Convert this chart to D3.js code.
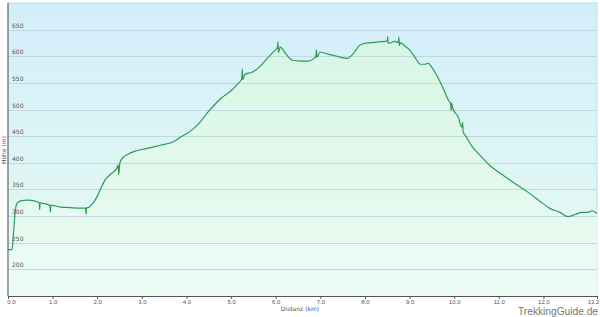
<!DOCTYPE html>
<html>
<head>
<meta charset="utf-8">
<script src="https://cdn.jsdelivr.net/npm/d3@7"></script>
<style>
  body { margin: 0; background: #fff; }
  svg { display: block; font-family: "DejaVu Sans", sans-serif; }
</style>
</head>
<body>
<div id="chart"></div>
<script>
// elevation profile (km / m)
var distKm = [0.00, 0.09, 0.12, 0.16, 0.20, 0.27, 0.43, 0.61, 0.70, 0.71, 0.72, 0.78, 0.94, 0.95, 0.96, 0.99, 1.17, 1.39, 1.61,
  1.74, 1.75, 1.76, 1.79, 1.90, 2.00, 2.08, 2.17, 2.29, 2.44, 2.47, 2.48, 2.51, 2.58, 2.69, 2.85, 3.12, 3.41, 3.70, 3.86,
  4.08, 4.30, 4.48, 4.64, 4.80, 4.98, 5.16, 5.24, 5.25, 5.26, 5.31, 5.47, 5.65, 5.83, 5.98, 6.04, 6.05, 6.06, 6.10, 6.23,
  6.36, 6.54, 6.72, 6.86, 6.90, 6.91, 6.92, 6.99, 7.17, 7.37, 7.60, 7.73, 7.89, 8.05, 8.22, 8.45, 8.50, 8.51, 8.52, 8.67,
  8.75, 8.76, 8.77, 8.79, 8.90, 9.01, 9.12, 9.24, 9.35, 9.41, 9.50, 9.61, 9.70, 9.79, 9.88, 9.92, 9.93, 9.94, 9.97, 10.09,
  10.17, 10.19, 10.20, 10.26, 10.40, 10.58, 10.80, 11.07, 11.36, 11.65, 11.92, 12.15, 12.37, 12.55, 12.71, 12.86, 13.00,
  13.09, 13.20];
var elevM = [237, 237, 264, 307, 324, 328, 330, 328, 325, 312, 325, 324, 320, 308, 320, 320, 317, 316, 315,
  315, 303, 316, 316, 324, 337, 352, 367, 378, 390, 396, 378, 401, 410, 416, 422, 427, 433, 439, 448,
  459, 476, 495, 510, 523, 534, 549, 558, 576, 556, 566, 570, 581, 598, 611, 617, 627, 607, 617, 604,
  593, 591, 591, 596, 600, 612, 598, 608, 604, 600, 596, 604, 621, 625, 626, 628, 628, 637, 624, 628,
  626, 636, 620, 625, 619, 611, 598, 585, 585, 587, 579, 564, 549, 533, 516, 512, 498, 512, 502, 486,
  467, 476, 458, 450, 431, 414, 395, 378, 361, 345, 328, 314, 307, 299, 303, 307, 307, 310, 305];

var yTicks = [200, 250, 300, 350, 400, 450, 500, 550, 600, 650];
var xTicks = [0, 1, 2, 3, 4, 5, 6, 7, 8, 9, 10, 11, 12, 13.2];

var width = 600, height = 317;
var margin = { top: 3, right: 3, bottom: 21, left: 8 };
var plotW = width - margin.left - margin.right;
var plotH = height - margin.top - margin.bottom;

var svg = d3.select("#chart").append("svg")
  .attr("width", width)
  .attr("height", height);

var defs = svg.append("defs");
var bgGrad = defs.append("linearGradient").attr("id", "bg")
  .attr("x1", 0).attr("y1", 0).attr("x2", 0).attr("y2", 1);
bgGrad.append("stop").attr("offset", "0%").attr("stop-color", "#d2eefa");
bgGrad.append("stop").attr("offset", "100%").attr("stop-color", "#e8fbf2");

var areaGrad = defs.append("linearGradient").attr("id", "areaFill")
  .attr("gradientUnits", "userSpaceOnUse")
  .attr("x1", 0).attr("y1", 0).attr("x2", 0).attr("y2", plotH);
areaGrad.append("stop").attr("offset", "0%").attr("stop-color", "#d4f5e2");
areaGrad.append("stop").attr("offset", "100%").attr("stop-color", "#ecfcf5");

var g = svg.append("g")
  .attr("transform", `translate(${margin.left}, ${margin.top})`);

var x = d3.scaleLinear().domain([0, 13.2]).range([0, plotW]);
var y = d3.scaleLinear().domain([150, 700]).range([plotH, 0]);

// plot background
g.append("rect")
  .attr("width", plotW)
  .attr("height", plotH)
  .attr("fill", "url(#bg)")
  .attr("stroke", "#c9dbe2")
  .attr("stroke-width", 1);

var profile = distKm.map((d, i) => ({ km: d, ele: elevM[i] }));

// area under the profile
var area = d3.area()
  .x(d => x(d.km))
  .y0(plotH)
  .y1(d => y(d.ele))
  .curve(d3.curveMonotoneX);

g.append("path")
  .datum(profile)
  .attr("d", area)
  .attr("fill", "url(#areaFill)");

// horizontal grid lines
g.selectAll(".grid")
  .data(yTicks)
  .enter()
  .append("line")
  .attr("x1", 0)
  .attr("x2", plotW)
  .attr("y1", d => Math.round(y(d)) + 0.5)
  .attr("y2", d => Math.round(y(d)) + 0.5)
  .attr("stroke", "#c3d7de")
  .attr("stroke-width", 1);

// y tick labels sit inside the plot, just above each grid line
g.selectAll(".ylab")
  .data(yTicks)
  .enter()
  .append("text")
  .attr("x", 4)
  .attr("y", d => y(d) - 2)
  .text(d => d)
  .attr("font-size", "6px")
  .attr("fill", "#555");

// the profile line
var line = d3.line()
  .x(d => x(d.km))
  .y(d => y(d.ele))
  .curve(d3.curveMonotoneX);

g.append("path")
  .datum(profile)
  .attr("d", line)
  .attr("fill", "none")
  .attr("stroke", "#2f9a58")
  .attr("stroke-width", 1.2)
  .attr("stroke-linejoin", "round");

// x axis
var bottomAxis = d3.axisBottom(x)
  .tickValues(xTicks)
  .tickSize(3)
  .tickPadding(1)
  .tickFormat(d3.format(".1f"));

var xAxis = g.append("g")
  .attr("transform", `translate(0, ${plotH})`)
  .call(bottomAxis);

xAxis.select(".domain").attr("stroke", "#555");
xAxis.selectAll(".tick line").attr("stroke", "#555");
xAxis.selectAll(".tick text")
  .attr("font-size", "6px")
  .attr("fill", "#555");
xAxis.selectAll(".tick text").filter(d => d === 0).attr("dx", "3");
xAxis.selectAll(".tick text").filter(d => d === 13.2).attr("dx", "-4");

// y axis line
g.append("line")
  .attr("x1", 0).attr("x2", 0)
  .attr("y1", 0).attr("y2", plotH)
  .attr("stroke", "#555");

// axis titles
svg.append("text")
  .attr("x", 300)
  .attr("y", 311)
  .attr("text-anchor", "middle")
  .attr("font-size", "6px")
  .attr("fill", "#555")
  .text("Distanz  (km)");

svg.append("text")
  .attr("transform", "translate(6, 150) rotate(-90)")
  .attr("text-anchor", "middle")
  .attr("font-size", "6px")
  .attr("fill", "#555")
  .text("Höhe (m)");

// watermark
svg.append("text")
  .attr("x", 598)
  .attr("y", 314.8)
  .attr("text-anchor", "end")
  .attr("font-size", "10px")
  .attr("font-family", "'Liberation Sans', sans-serif")
  .attr("fill", "#777")
  .attr("textLength", 80)
  .attr("lengthAdjust", "spacingAndGlyphs")
  .text("TrekkingGuide.de");
</script>
</body>
</html>
